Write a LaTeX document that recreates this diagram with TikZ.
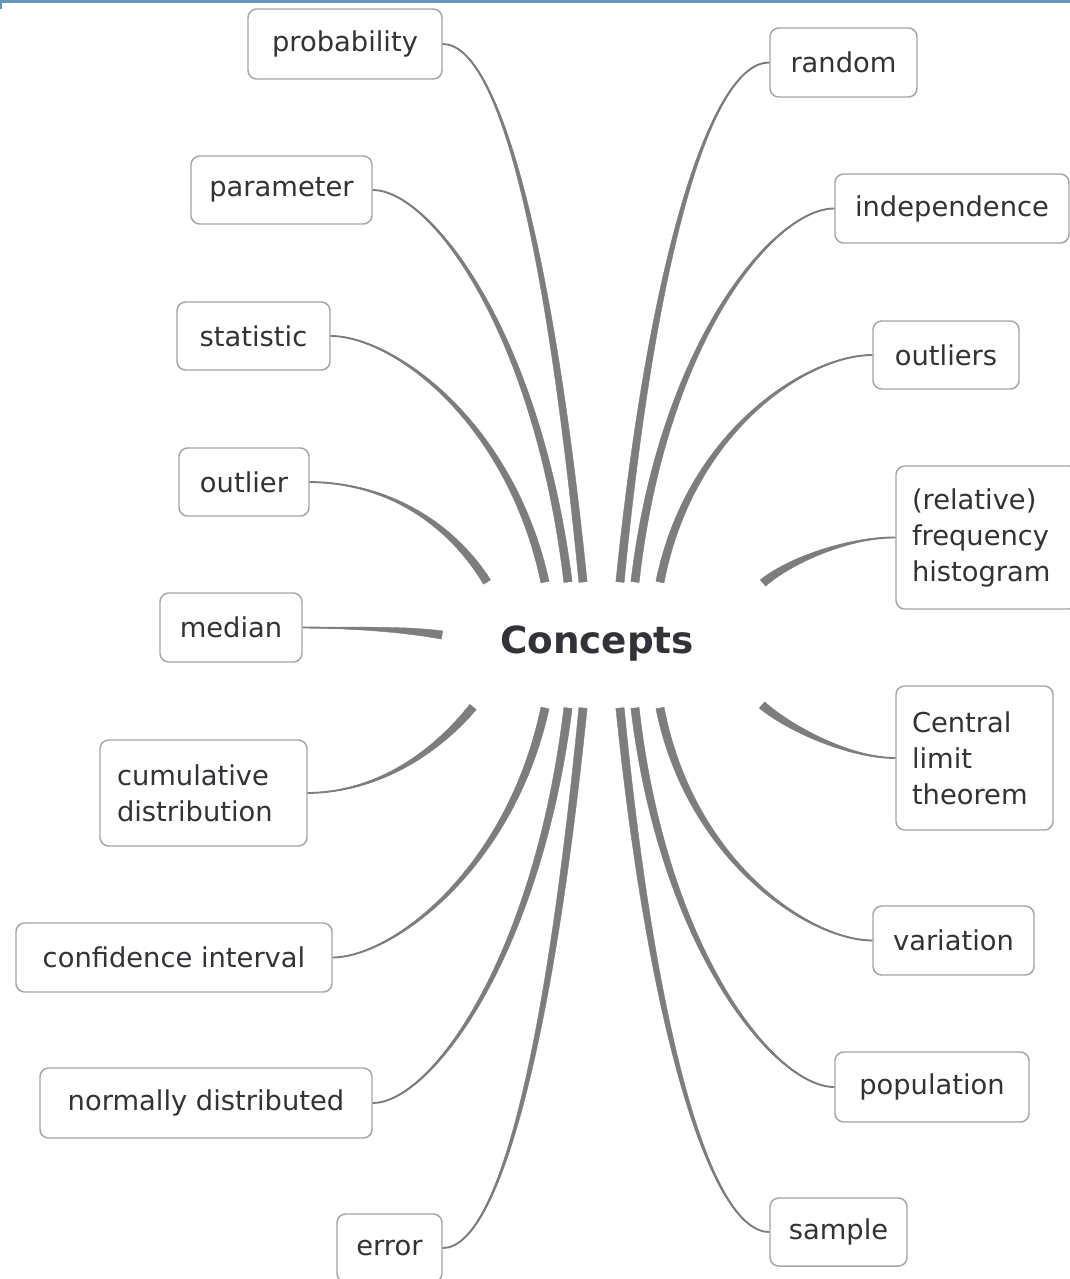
\documentclass[tikz,border=0pt]{standalone}
\usepackage{fontspec}
\setmainfont{DejaVu Sans}
\usetikzlibrary{calc}
\definecolor{linkc}{RGB}{125,125,125}
\definecolor{boxc}{RGB}{165,165,165}
\definecolor{txtc}{RGB}{50,50,56}
\definecolor{topblue}{RGB}{100,150,190}
\tikzset{
 box/.style={draw=boxc, line width=1.1pt, rounded corners=6.5pt, fill=white, inner sep=0pt, align=left, text=txtc, font=\fontsize{20.5}{27}\selectfont},
 link/.style={fill=linkc, draw=linkc, line width=0.3pt},
 linkline/.style={draw=linkc, line width=1.4pt},
 centre/.style={text=txtc, font=\fontsize{28}{34}\selectfont\bfseries},
}
% box: name, text, x1, x2, y1, y2 (pixels)
\newcommand\bx[6]{\node[box, minimum width={(#4-#3)*0.75pt}, minimum height={(#6-#5)*0.75pt}] (#1) at ({(#3+#4)/2},{(#5+#6)/2}) {#2};}
% multi-line box with left padding: name, text, x1, x2, y1, y2, pad
\newcommand\bxl[7]{\node[box, text width={(#4-#3-2*#7)*0.75pt}, minimum width={(#4-#3)*0.75pt}, minimum height={(#6-#5)*0.75pt}] (#1) at ({(#3+#4)/2},{(#5+#6)/2}) {#2};}
% tapered connector: id, start anchor, control 1, control 2, free end
\newcommand\conn[5]{%
 \coordinate (#1-a) at (#3); \coordinate (#1-b) at (#4); \coordinate (#1-e) at (#5);
 \filldraw[link] (#2) .. controls ($(#1-a)!0.9pt!90:(#2)$) and ($(#1-b)!2.5pt!-90:(#1-e)$) .. ($(#1-e)!3.1pt!90:(#1-b)$)
   -- ($(#1-e)!3.1pt!-90:(#1-b)$) .. controls ($(#1-b)!2.5pt!90:(#1-e)$) and ($(#1-a)!0.9pt!-90:(#2)$) .. (#2) -- cycle;
 \draw[linkline] (#2) .. controls (#1-a) and (#1-b) .. (#1-e);
}
\begin{document}
\begin{tikzpicture}[x=0.75pt,y=-0.75pt]
\useasboundingbox (0,0) rectangle (1070,1279);
\clip (0,0) rectangle (1070,1279);
\fill[white] (0,0) rectangle (1070,1279);
\fill[topblue] (0,0) rectangle (1070,2.5);
\fill[topblue] (0,0) rectangle (2,9);

\node[centre] (c) at (597,644) {Concepts};

% left column
\bx{prob}{probability}{248}{442}{9}{79}
\bx{param}{parameter}{191}{372}{156}{224}
\bx{stat}{statistic}{177}{330}{302}{370}
\bx{outl}{outlier}{179}{309}{448}{516}
\bx{med}{median}{160}{302}{593}{662}
\bxl{cum}{cumulative\\distribution}{100}{307}{740}{846}{17}
\bx{conf}{confidence interval}{16}{332}{923}{992}
\bx{norm}{normally distributed}{40}{372}{1068}{1138}
\bx{err}{error}{337}{442}{1214}{1282}
% right column
\bx{rand}{random}{770}{917}{28}{97}
\bx{indep}{independence}{835}{1069}{174}{243}
\bx{outs}{outliers}{873}{1019}{321}{389}
\bxl{freq}{(relative)\\frequency\\histogram}{896}{1078}{466}{609}{16}
\bxl{clt}{Central\\limit\\theorem}{896}{1053}{686}{830}{16}
\bx{var}{variation}{873}{1034}{906}{975}
\bx{pop}{population}{835}{1029}{1052}{1122}
\bx{samp}{sample}{770}{907}{1198}{1266}

% connectors, left
\conn{k1}{prob.east}{500,44}{550,250}{583,582}
\conn{k2}{param.east}{430,190}{537,330}{568,582}
\conn{k3}{stat.east}{392,336}{510,420}{545,582}
\conn{k4}{outl.east}{395,483}{455,530}{487,582}
\conn{k5}{med.east}{370,628}{410,630}{442,635}
\conn{k6}{cum.east}{385,792}{442,745}{473,707}
\conn{k7}{conf.east}{392,957}{510,870}{545,708}
\conn{k8}{norm.east}{430,1103}{537,960}{568,708}
\conn{k9}{err.east}{500,1248}{550,1040}{583,708}
% connectors, right
\conn{m1}{rand.west}{712,62}{653,250}{620,582}
\conn{m2}{indep.west}{775,208}{663,340}{635,582}
\conn{m3}{outs.west}{808,355}{690,430}{660,582}
\conn{m4}{freq.west}{850,537}{790,560}{763,583}
\conn{m5}{clt.west}{850,758}{790,729}{762,705}
\conn{m6}{var.west}{808,940}{690,860}{660,708}
\conn{m7}{pop.west}{775,1087}{663,950}{635,708}
\conn{m8}{samp.west}{712,1232}{653,1040}{620,708}
\end{tikzpicture}
\end{document}
